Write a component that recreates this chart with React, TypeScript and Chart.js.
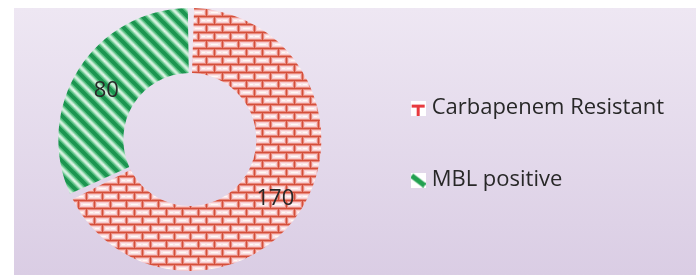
import React, { useEffect, useRef } from "react";
import { Chart, registerables } from "chart.js";

Chart.register(...registerables);

const categories = ["Carbapenem Resistant", "MBL positive"];
const counts = [170, 80];
const valueLabels = ["170", "80"];

const FONT = '"Open Sans", "Liberation Sans", sans-serif';
const TEXT_COLOR = "#282828";

function brickPattern(ctx: CanvasRenderingContext2D): CanvasPattern {
  const W = 16;
  const H = 16;
  const c = document.createElement("canvas");
  c.width = W;
  c.height = H;
  const g = c.getContext("2d")!;
  // soft mortar halo
  g.fillStyle = "#e8897a";
  g.fillRect(0, 0, W, H);
  // brick faces
  g.fillStyle = "#f6c8cc";
  g.fillRect(2, 2, 13, 5);
  g.fillRect(0, 10, 7, 5);
  g.fillRect(10, 10, 6, 5);
  g.fillStyle = "#fce4e6";
  g.fillRect(3, 3, 11, 3);
  g.fillRect(0, 11, 6, 3);
  g.fillRect(11, 11, 5, 3);
  g.fillStyle = "#fffaf4";
  g.fillRect(5, 4, 7, 1);
  g.fillRect(1, 12, 4, 1);
  g.fillRect(12, 12, 3, 1);
  // mortar cores
  g.fillStyle = "#d44e3c";
  g.fillRect(0, 0, W, 1);
  g.fillRect(0, 8, W, 1);
  g.fillRect(0, 0, 1, 8);
  g.fillRect(8, 8, 1, 8);
  return ctx.createPattern(c, "repeat")!;
}

function stripePattern(ctx: CanvasRenderingContext2D): CanvasPattern {
  const P = 15;
  const c = document.createElement("canvas");
  c.width = P;
  c.height = P;
  const g = c.getContext("2d")!;
  g.fillStyle = "#f3fcf7";
  g.fillRect(0, 0, P, P);
  for (const [w, col] of [
    [10, "#b8e6c9"],
    [7, "#5fc387"],
    [4, "#1c9550"],
  ] as [number, string][]) {
    g.strokeStyle = col;
    g.lineWidth = w;
    for (const k of [-P, 0, P]) {
      g.beginPath();
      g.moveTo(-3, k - 3);
      g.lineTo(P + 3, k + P + 3);
      g.stroke();
    }
  }
  return ctx.createPattern(c, "repeat")!;
}

function redIcon(): HTMLCanvasElement {
  const c = document.createElement("canvas");
  c.width = 15;
  c.height = 15;
  const g = c.getContext("2d")!;
  g.fillStyle = "#ffffff";
  g.fillRect(0, 0, 15, 15);
  g.fillStyle = "#e83a3f";
  g.fillRect(1, 4, 13, 3);
  g.fillRect(6, 6, 3, 9);
  return c;
}

function greenIcon(): HTMLCanvasElement {
  const c = document.createElement("canvas");
  c.width = 15;
  c.height = 15;
  const g = c.getContext("2d")!;
  g.fillStyle = "#ffffff";
  g.fillRect(0, 0, 15, 15);
  g.strokeStyle = "#22a050";
  g.lineWidth = 5;
  g.beginPath();
  g.moveTo(1, 3);
  g.lineTo(14, 13);
  g.stroke();
  return c;
}

const valueLabelPlugin = {
  id: "valueLabels",
  afterDatasetsDraw(chart: any) {
    const ctx = chart.ctx;
    const meta = chart.getDatasetMeta(0);
    ctx.save();
    ctx.font = `22px ${FONT}`;
    ctx.fillStyle = TEXT_COLOR;
    ctx.textAlign = "center";
    ctx.textBaseline = "middle";
    meta.data.forEach((arc: any, i: number) => {
      const p = arc.tooltipPosition();
      ctx.fillText(valueLabels[i], p.x + (i === 0 ? 2 : 0), p.y + (i === 0 ? 6 : 4));
    });
    ctx.restore();
  },
};

export default function App() {
  const ref = useRef<HTMLCanvasElement | null>(null);

  useEffect(() => {
    const canvas = ref.current!;
    const ctx = canvas.getContext("2d")!;
    const fills = [brickPattern(ctx), stripePattern(ctx)];
    const icons = [redIcon(), greenIcon()];
    const chart = new Chart(canvas, {
      type: "doughnut",
      data: {
        labels: categories,
        datasets: [
          {
            data: counts,
            backgroundColor: fills as any,
            borderWidth: 0,
            spacing: 3,
          } as any,
        ],
      },
      options: {
        animation: false,
        responsive: false,
        cutout: "50%",
        layout: { padding: { left: 0, right: 22, top: 0, bottom: 4 } },
        plugins: {
          tooltip: { enabled: false },
          legend: {
            position: "right",
            align: "center",
            title: { display: true, text: " ", font: { size: 1 }, padding: 4 },
            labels: {
              usePointStyle: true,
              boxWidth: 5,
              boxHeight: 15,
              padding: 50,
              color: TEXT_COLOR,
              font: { family: FONT, size: 22, lineHeight: "22px" },
              generateLabels: () =>
                categories.map((t, i) => ({
                  text: t,
                  pointStyle: icons[i],
                  fillStyle: "transparent",
                  strokeStyle: "transparent",
                  lineWidth: 0,
                  hidden: false,
                  index: i,
                  datasetIndex: 0,
                  fontColor: TEXT_COLOR,
                })) as any,
            },
          },
        },
      },
      plugins: [valueLabelPlugin],
    });
    return () => chart.destroy();
  }, []);

  return (
    <div
      style={{
        position: "absolute",
        left: 14,
        top: 8,
        width: 682,
        height: 267,
        background: "linear-gradient(to bottom, #eee7f3, #dacde4)",
      }}
    >
      <canvas ref={ref} width={682} height={267} style={{ display: "block" }} />
    </div>
  );
}
